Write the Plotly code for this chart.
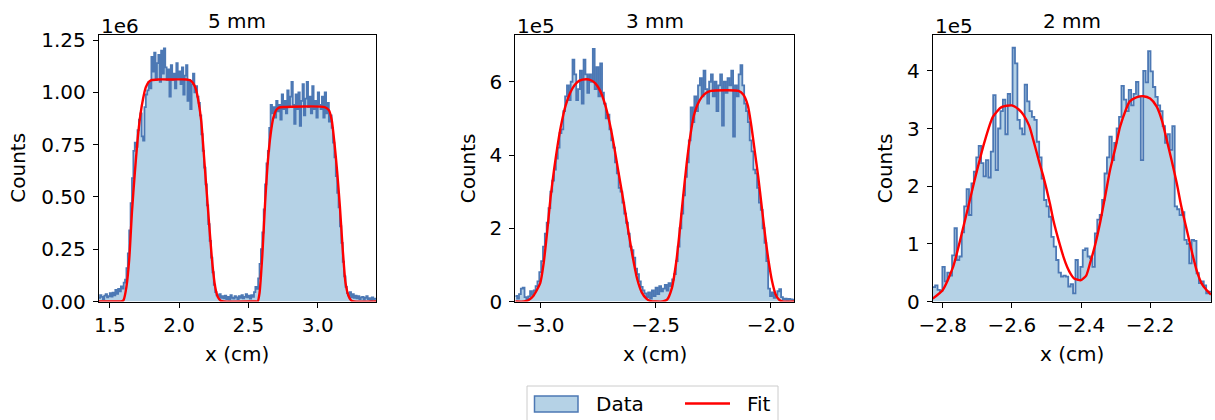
import numpy as np
import plotly.graph_objects as go

# ---------------- 5 mm ----------------
bins_5mm_start = 1.42
bins_5mm_width = 0.01
counts_5mm_k = [  # counts per bin, in thousands
    18, 30, 22, 12, 28, 35, 20, 26, 40, 24,
    42, 30, 55, 36, 60, 48, 72, 62, 90, 105,
    160, 230, 340, 470, 590, 720, 760, 740, 820, 870,
    900, 790, 770, 930, 990, 1010, 1050, 1020, 1170, 1100,
    1190, 1060, 1140, 1180, 1050, 1200, 1090, 1210, 1120, 1060,
    1110, 980, 1130, 1060, 1090, 1020, 1140, 1070, 1100, 1040,
    1120, 990, 1080, 1130, 960, 1060, 920, 1040, 1090, 1000,
    1030, 980, 950, 890, 800, 720, 640, 560, 460, 370,
    290, 210, 140, 80, 45, 30, 22, 35, 18, 25,
    15, 28, 12, 22, 10, 30, 18, 14, 25, 20,
    12, 26, 18, 30, 15, 22, 35, 20, 28, 14,
    30, 22, 45, 70, 60, 110, 180, 250, 330, 440,
    560, 660, 720, 830, 940, 900, 930, 880, 960, 910,
    940, 870, 990, 920, 960, 900, 1010, 930, 980, 1050,
    940, 850, 990, 920, 1000, 840, 960, 1040, 890, 970,
    1050, 930, 980, 900, 1030, 920, 960, 880, 1000, 940,
    920, 980, 880, 1000, 900, 950, 860, 890, 830, 760,
    690, 600, 520, 450, 360, 280, 190, 120, 70, 40,
    30, 45, 20, 35, 18, 28, 15, 25, 12, 20,
    22, 10, 18, 25, 12, 16, 8, 20, 10, 14,
]
fit_5mm_x = [1.42, 1.56, 1.59, 1.60, 1.62, 1.64, 1.66, 1.68, 1.70, 1.72, 1.74, 1.76,
             1.78, 1.80, 1.85, 1.95, 2.05, 2.08, 2.10, 2.12, 2.14, 2.16, 2.18, 2.20,
             2.22, 2.24, 2.26, 2.28, 2.30, 2.32, 2.55, 2.567, 2.58, 2.60, 2.62, 2.64,
             2.66, 2.68, 2.70, 2.72, 2.75, 3.05, 3.08, 3.10, 3.12, 3.14, 3.16, 3.18,
             3.20, 3.22, 3.24, 3.26, 3.42]
fit_5mm_k = [0, 0, 2, 8, 70, 200, 430, 610, 770, 890, 970, 1025,
             1050, 1059, 1062, 1062, 1062, 1058, 1045, 1018, 955, 860, 690, 515,
             340, 180, 70, 20, 4, 0, 0, 0, 40, 220, 470, 670,
             800, 880, 915, 927, 930, 930, 915, 870, 760, 620, 450, 250,
             90, 30, 5, 0, 0]

# ---------------- 3 mm ----------------
bins_3mm_start = -3.108
bins_3mm_width = 0.008
counts_3mm_k = [
    15, 8, 20, 35, 38, 12, 6, 14, 28, 18,
    30, 42, 55, 80, 110, 150, 185, 215, 255, 300,
    330, 360, 390, 420, 460, 470, 520, 560, 590, 550,
    600, 660, 620, 550, 580, 630, 540, 660, 620, 570,
    620, 600, 690, 580, 640, 560, 650, 570, 540, 500,
    510, 470, 440, 420, 380, 350, 310, 300, 270, 240,
    215, 185, 150, 140, 120, 90, 75, 55, 40, 30,
    22, 12, 25, 8, 30, 15, 38, 20, 42, 28,
    35, 45, 30, 50, 42, 60, 75, 110, 150, 200,
    240, 290, 340, 380, 440, 530, 490, 560, 520, 590,
    610, 560, 630, 580, 540, 600, 620, 560, 600, 520,
    590, 620, 480, 600, 570, 610, 590, 630, 450, 590,
    560, 620, 645, 590, 540, 520, 490, 440, 410, 360,
    350, 310, 270, 250, 200, 160, 110, 35, 15, 25,
    10, 18, 28, 34, 12, 6, 8, 5, 7, 6,
    5,
]
fit_3mm_x = [-3.108, -3.07, -3.05, -3.03, -3.0, -2.985, -2.97, -2.955, -2.94, -2.925,
             -2.91, -2.89, -2.87, -2.85, -2.83, -2.80, -2.78, -2.76, -2.74, -2.72,
             -2.70, -2.68, -2.66, -2.64, -2.62, -2.60, -2.58, -2.56, -2.54, -2.52,
             -2.50, -2.47, -2.45, -2.43, -2.41, -2.395, -2.38, -2.365, -2.35, -2.335,
             -2.32, -2.30, -2.28, -2.26, -2.14, -2.12, -2.10, -2.085, -2.07, -2.055,
             -2.04, -2.025, -2.01, -1.995, -1.98, -1.965, -1.95, -1.90]
fit_3mm_k = [0, 0, 4, 15, 50, 105, 190, 285, 360, 425,
             480, 535, 570, 592, 603, 607, 604, 595, 575, 540,
             490, 425, 350, 277, 200, 125, 62, 25, 8, 1,
             0, 0, 5, 35, 110, 195, 290, 378, 450, 505,
             535, 558, 570, 575, 575, 565, 535, 480, 410, 340,
             260, 180, 110, 55, 20, 5, 0, 0]

# ---------------- 2 mm ----------------
bins_2mm_start = -2.829
bins_2mm_width = 0.007
counts_2mm_k = [
    25, 28, 20, 18, 60, 35, 50, 45, 80, 127,
    72, 78, 120, 165, 195, 150, 205, 225, 250, 270,
    240, 217, 245, 215, 260, 358, 228, 300, 330, 350,
    290, 360, 340, 440, 413, 315, 300, 290, 376, 347,
    330, 320, 315, 277, 250, 213, 176, 165, 147, 112,
    95, 72, 50, 43, 45, 43, 26, 30, 14, 72,
    37, 60, 89, 92, 78, 75, 60, 118, 142, 150,
    176, 222, 250, 286, 245, 275, 300, 320, 374, 350,
    330, 367, 340, 360, 381, 355, 245, 400, 380, 434,
    399, 372, 355, 340, 330, 304, 275, 290, 263, 304,
    165, 160, 150, 155, 107, 100, 66, 107, 105, 49,
    32, 35, 28, 14, 17,
]
fit_2mm_x = [-2.829, -2.80, -2.77, -2.74, -2.71, -2.68, -2.655, -2.63, -2.60, -2.58,
             -2.567, -2.55, -2.538, -2.52, -2.509, -2.49, -2.48, -2.46, -2.451, -2.44,
             -2.43, -2.42, -2.40, -2.385, -2.374, -2.36, -2.345, -2.33, -2.316, -2.30,
             -2.287, -2.27, -2.259, -2.24, -2.22, -2.20, -2.181, -2.165, -2.152, -2.138,
             -2.123, -2.11, -2.094, -2.08, -2.066, -2.05, -2.037, -2.024]
fit_2mm_k = [5, 20, 60, 130, 205, 275, 320, 337, 340, 333,
             324, 305, 280, 240, 217, 170, 141, 96, 78, 60,
             48, 40, 37, 45, 66, 96, 136, 183, 228, 268,
             303, 333, 347, 354, 356, 352, 338, 312, 280, 245,
             205, 165, 124, 88, 55, 30, 20, 12]

panel_titles = ["5 mm", "3 mm", "2 mm"]
x_label = "x (cm)"
y_label = "Counts"

panels = [
    dict(start=bins_5mm_start, width=bins_5mm_width, counts=counts_5mm_k,
         fx=fit_5mm_x, fy=fit_5mm_k, xr=[1.42, 3.42], yr=[0, 1.277e6],
         xt=[1.5, 2.0, 2.5, 3.0], xtt=["1.5", "2.0", "2.5", "3.0"],
         yt=[0, 0.25e6, 0.5e6, 0.75e6, 1.0e6, 1.25e6],
         ytt=["0.00", "0.25", "0.50", "0.75", "1.00", "1.25"], off="1e6",
         left=98.7, right=376.0, ylab_x=17.7),
    dict(start=bins_3mm_start, width=bins_3mm_width, counts=counts_3mm_k,
         fx=fit_3mm_x, fy=fit_3mm_k, xr=[-3.108, -1.9], yr=[0, 7.29e5],
         xt=[-3.0, -2.5, -2.0], xtt=["\u22123.0", "\u22122.5", "\u22122.0"],
         yt=[0, 2e5, 4e5, 6e5], ytt=["0", "2", "4", "6"], off="1e5",
         left=515.3, right=794.0, ylab_x=468.3),
    dict(start=bins_2mm_start, width=bins_2mm_width, counts=counts_2mm_k,
         fx=fit_2mm_x, fy=fit_2mm_k, xr=[-2.829, -2.024], yr=[0, 4.63e5],
         xt=[-2.8, -2.6, -2.4, -2.2], xtt=["\u22122.8", "\u22122.6", "\u22122.4", "\u22122.2"],
         yt=[0, 1e5, 2e5, 3e5, 4e5], ytt=["0", "1", "2", "3", "4"], off="1e5",
         left=932.7, right=1211.0, ylab_x=885.3),
]

W, H = 1215, 420
TOP, BOTTOM = 34.5, 301.5
FONT = "DejaVu Sans"
FS = 20
FILL = "rgb(181,210,230)"
EDGE = "rgb(76,120,180)"
FIT = "rgb(255,0,0)"


def px(x):
    return x / W


def py(y):
    return 1 - y / H


fig = go.Figure()
annotations = []
layout_axes = {}

for i, p in enumerate(panels):
    n = i + 1
    xa = "x" if n == 1 else f"x{n}"
    ya = "y" if n == 1 else f"y{n}"
    counts = np.array(p["counts"], dtype=float) * 1000
    edges = p["start"] + p["width"] * np.arange(len(counts) + 1)
    step_y = np.append(counts, counts[-1])

    fig.add_trace(go.Scatter(
        x=edges, y=step_y, mode="lines", line=dict(shape="hv", color=EDGE, width=1.8),
        fill="tozeroy", fillcolor=FILL, name="Data", showlegend=False,
        xaxis=xa, yaxis=ya, hoverinfo="skip"))
    fig.add_trace(go.Scatter(
        x=p["fx"], y=np.array(p["fy"], dtype=float) * 1000, mode="lines",
        line=dict(shape="spline", smoothing=0.6, color=FIT, width=2.4),
        name="Fit", showlegend=False, xaxis=xa, yaxis=ya, hoverinfo="skip"))

    common = dict(showline=True, mirror=True, linecolor="black", linewidth=1,
                  ticks="outside", ticklen=5, tickwidth=1, tickcolor="black",
                  showgrid=False, zeroline=False, automargin=False,
                  tickfont=dict(family=FONT, size=FS, color="black"))
    layout_axes["xaxis" if n == 1 else f"xaxis{n}"] = dict(
        common, domain=[px(p["left"]), px(p["right"])], range=p["xr"],
        tickvals=p["xt"], ticktext=p["xtt"], anchor=ya)
    layout_axes["yaxis" if n == 1 else f"yaxis{n}"] = dict(
        common, domain=[py(BOTTOM), py(TOP)], range=p["yr"],
        tickvals=p["yt"], ticktext=p["ytt"], anchor=xa, ticklabelstandoff=3)

    cx = (p["left"] + p["right"]) / 2
    annotations += [
        dict(text=panel_titles[i], x=px(cx), y=py(21), xref="paper", yref="paper",
             xanchor="center", yanchor="middle", showarrow=False,
             font=dict(family=FONT, size=FS, color="black")),
        dict(text=p["off"], x=px(p["left"]), y=py(26), xref="paper", yref="paper",
             xanchor="left", yanchor="middle", showarrow=False,
             font=dict(family=FONT, size=FS, color="black")),
        dict(text=x_label, x=px(cx), y=py(354), xref="paper", yref="paper",
             xanchor="center", yanchor="middle", showarrow=False,
             font=dict(family=FONT, size=FS, color="black")),
        dict(text=y_label, x=px(p["ylab_x"]), y=py((TOP + BOTTOM) / 2), xref="paper",
             yref="paper", xanchor="center", yanchor="middle", showarrow=False,
             textangle=-90, font=dict(family=FONT, size=FS, color="black")),
    ]

# Legend box drawn below the panels
legend_labels = ["Data", "Fit"]
shapes = [
    dict(type="rect", xref="paper", yref="paper", x0=px(527), x1=px(778),
         y0=py(440), y1=py(386), line=dict(color="rgb(204,204,204)", width=1),
         fillcolor="white", layer="above"),
    dict(type="rect", xref="paper", yref="paper", x0=px(534.5), x1=px(578),
         y0=py(412), y1=py(396), line=dict(color=EDGE, width=1.5),
         fillcolor=FILL, layer="above"),
    dict(type="line", xref="paper", yref="paper", x0=px(685), x1=px(730),
         y0=py(403.5), y1=py(403.5), line=dict(color=FIT, width=2.4), layer="above"),
]
annotations += [
    dict(text=legend_labels[0], x=px(594), y=py(404), xref="paper", yref="paper",
         xanchor="left", yanchor="middle", showarrow=False,
         font=dict(family=FONT, size=FS, color="black")),
    dict(text=legend_labels[1], x=px(745), y=py(404), xref="paper", yref="paper",
         xanchor="left", yanchor="middle", showarrow=False,
         font=dict(family=FONT, size=FS, color="black")),
]

fig.update_layout(
    width=W, height=H, margin=dict(l=0, r=0, t=0, b=0, pad=0, autoexpand=False),
    paper_bgcolor="white", plot_bgcolor="white",
    font=dict(family=FONT, size=FS, color="black"),
    showlegend=False, annotations=annotations, shapes=shapes,
    **layout_axes)

fig.write_html("out.html")
